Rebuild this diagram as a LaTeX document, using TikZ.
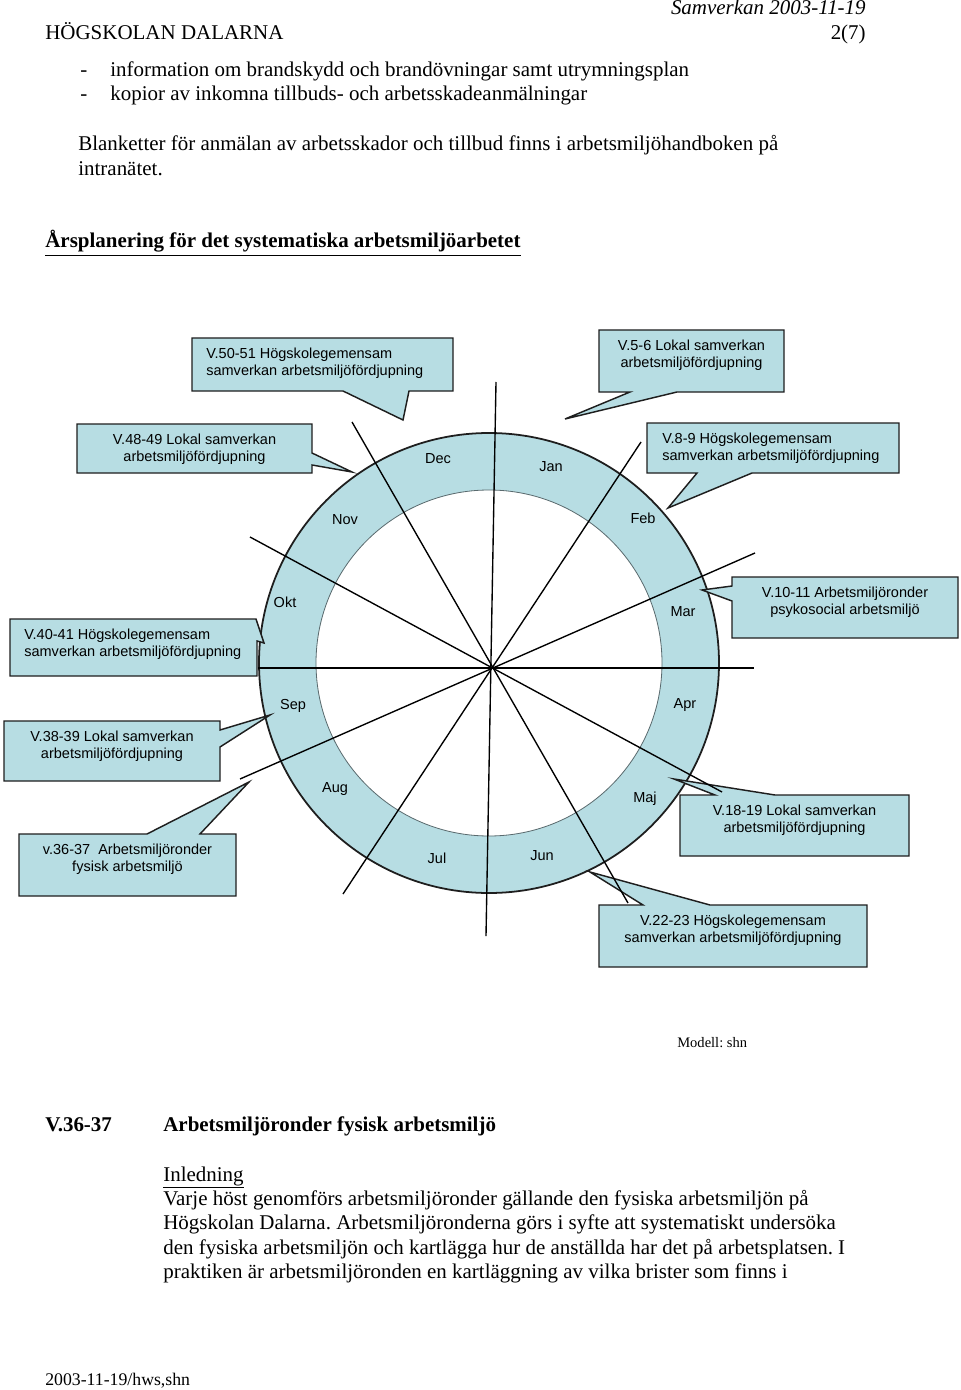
\documentclass[tikz,border=0pt]{standalone}
\usepackage{fontspec}
\setmainfont{Liberation Serif}
\setsansfont{Liberation Sans}
\usepackage{tikz}
\frenchspacing
\definecolor{boxfill}{HTML}{B7DDE3}
\definecolor{edge}{HTML}{1E1E1E}
\definecolor{ringline}{HTML}{5A6A6E}
\tikzset{
    every picture/.style={line join=miter},
    callbox/.style={fill=boxfill,draw=edge,line width=0.9pt},
    calltext/.style={font=\sffamily\fontsize{9}{10.5}\selectfont,inner sep=0pt,
      anchor=north,align=center},
    monthlabel/.style={font=\sffamily\fontsize{9}{10.5}\selectfont,inner sep=0pt,
      text height=6.5pt,text depth=0pt},
    spoke/.style={draw=black,line width=0.85pt},
    bodytext/.style={font=\fontsize{13}{15.5}\selectfont,inner sep=0pt,anchor=base west}
}
\begin{document}
\begin{tikzpicture}[x=0.62pt,y=-0.62pt]
  \useasboundingbox[fill=white] (0,0) rectangle (960,1390);
  % page head
  \node[bodytext,anchor=base east,font=\itshape\fontsize{13}{15.5}\selectfont] (date) at (866,15) {Samverkan 2003-11-19};
  \node[bodytext] (school) at (45,40) {HÖGSKOLAN DALARNA};
  \node[bodytext,anchor=base east] (page) at (866,40) {2(7)};
  \node[bodytext] (dash1) at (80,77) {-};
  \node[bodytext] (item1) at (110,77) {information om brandskydd och brandövningar samt utrymningsplan};
  \node[bodytext] (dash2) at (80,101) {-};
  \node[bodytext] (item2) at (110,101) {kopior av inkomna tillbuds- och arbetsskadeanmälningar};
  \node[bodytext] (form1) at (78,151) {Blanketter för anmälan av arbetsskador och tillbud finns i arbetsmiljöhandboken på};
  \node[bodytext] (form2) at (78,176) {intranätet.};
  \node[bodytext,font=\bfseries\fontsize{13}{15.5}\selectfont] (title) at (45,248) {\underline{Årsplanering för det systematiska arbetsmiljöarbetet}};

  % year wheel
  \coordinate (C) at (489,663);
  \fill[boxfill,even odd rule] (C) circle[radius=230] (C) circle[radius=173];
  \draw[edge,line width=1.1pt] (C) circle[radius=230];
  \draw[ringline,line width=0.5pt] (C) circle[radius=173];
  \node[monthlabel] (dec) at (438,458) {Dec};
  \node[monthlabel] (jan) at (551,466) {Jan};
  \node[monthlabel] (nov) at (345,519) {Nov};
  \node[monthlabel] (feb) at (643,518) {Feb};
  \node[monthlabel] (okt) at (285,602) {Okt};
  \node[monthlabel] (mar) at (683,611) {Mar};
  \node[monthlabel] (sep) at (293,704) {Sep};
  \node[monthlabel] (apr) at (685,703) {Apr};
  \node[monthlabel] (aug) at (335,787) {Aug};
  \node[monthlabel] (maj) at (645,797) {Maj};
  \node[monthlabel] (jul) at (437,858) {Jul};
  \node[monthlabel] (jun) at (542,855) {Jun};

  % callouts
  \draw[callbox] (192,338) -- (453,338) -- (453,391) -- (409,391) -- (403,420) -- (343,391) -- (192,391) -- cycle;
  \node[calltext,anchor=north west,align=left] (v5051) at (206,348) {V.50-51 Högskolegemensam\\samverkan arbetsmiljöfördjupning};
  \draw[callbox] (599,330) -- (784,330) -- (784,392) -- (677,392) -- (565,419) -- (630,392) -- (599,392) -- cycle;
  \node[calltext] (v56) at (691.5,340) {V.5-6 Lokal samverkan\\arbetsmiljöfördjupning};
  \draw[callbox] (77,424) -- (312,424) -- (312,453) -- (352,472) -- (312,465) -- (312,473) -- (77,473) -- cycle;
  \node[calltext] (v4849) at (194.5,434) {V.48-49 Lokal samverkan\\arbetsmiljöfördjupning};
  \draw[callbox] (647,423) -- (899,423) -- (899,473) -- (752,473) -- (668,508) -- (697,473) -- (647,473) -- cycle;
  \node[calltext,anchor=north west,align=left] (v89) at (662,433) {V.8-9 Högskolegemensam\\samverkan arbetsmiljöfördjupning};
  \draw[callbox] (732,577) -- (958,577) -- (958,638) -- (732,638) -- (732,601) -- (702,590) -- (732,586) -- cycle;
  \node[calltext] (v1011) at (845,587) {V.10-11 Arbetsmiljöronder\\psykosocial arbetsmiljö};
  \draw[callbox] (10,619) -- (256,619) -- (264,643) -- (257,641) -- (257,676) -- (10,676) -- cycle;
  \node[calltext,anchor=north west,align=left] (v4041) at (24,629) {V.40-41 Högskolegemensam\\samverkan arbetsmiljöfördjupning};
  \draw[callbox] (4,721) -- (220,721) -- (220,730) -- (270,715) -- (220,747) -- (220,781) -- (4,781) -- cycle;
  \node[calltext] (v3839) at (112,731) {V.38-39 Lokal samverkan\\arbetsmiljöfördjupning};
  \draw[callbox] (19,834) -- (147,834) -- (249,782) -- (200,834) -- (236,834) -- (236,896) -- (19,896) -- cycle;
  \node[calltext] (v3637) at (127.5,844) {v.36-37\ \ Arbetsmiljöronder\\fysisk arbetsmiljö};
  \draw[callbox] (680,795) -- (715,795) -- (674,779) -- (775,795) -- (909,795) -- (909,856) -- (680,856) -- cycle;
  \node[calltext] (v1819) at (794.5,805) {V.18-19 Lokal samverkan\\arbetsmiljöfördjupning};
  \draw[callbox] (599,905) -- (643,905) -- (590,872) -- (710,905) -- (867,905) -- (867,967) -- (599,967) -- cycle;
  \node[calltext] (v2223) at (733,915) {V.22-23 Högskolegemensam\\samverkan arbetsmiljöfördjupning};

  % spokes
  \foreach \ax/\ay/\bx/\by in {496/382/486/936, 352/422/628/903, 641/442/343/894,
      755/553/240/779, 258/668/754/668, 250/537/722/792}
    \draw[spoke] (\ax,\ay) -- (\bx,\by);

  \node[bodytext,font=\fontsize{9}{11}\selectfont] (model) at (677,1047) {Modell: shn};

  % section text
  \node[bodytext,font=\bfseries\fontsize{13}{15.5}\selectfont] (week) at (45,1131) {V.36-37};
  \node[bodytext,font=\bfseries\fontsize{13}{15.5}\selectfont] (head) at (163,1131) {Arbetsmiljöronder fysisk arbetsmiljö};
  \node[bodytext] (intro) at (163,1181) {\underline{Inledning}};
  \node[bodytext] (line1) at (163,1205) {Varje höst genomförs arbetsmiljöronder gällande den fysiska arbetsmiljön på};
  \node[bodytext] (line2) at (163,1229.5) {Högskolan Dalarna. Arbetsmiljöronderna görs i syfte att systematiskt undersöka};
  \node[bodytext] (line3) at (163,1254) {den fysiska arbetsmiljön och kartlägga hur de anställda har det på arbetsplatsen. I};
  \node[bodytext] (line4) at (163,1278.5) {praktiken är arbetsmiljöronden en kartläggning av vilka brister som finns i};
  \node[bodytext,font=\fontsize{11}{13}\selectfont] (foot) at (45,1385) {2003-11-19/hws,shn};
\end{tikzpicture}
\end{document}
